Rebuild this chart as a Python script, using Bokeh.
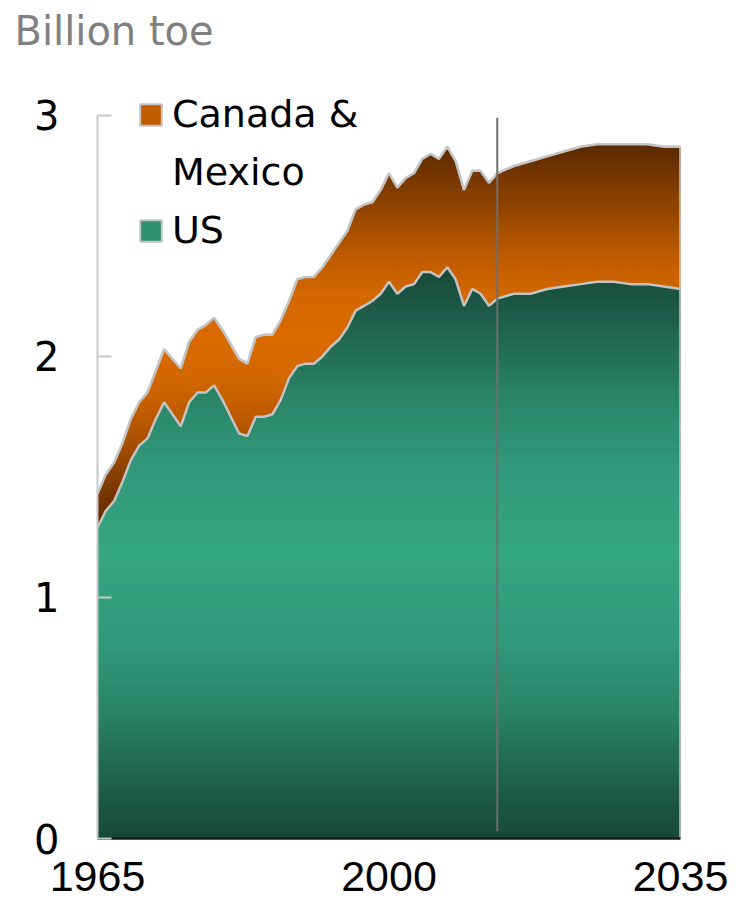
import numpy as np
from bokeh.plotting import figure
from bokeh.models import Range1d, FixedTicker, Legend, LegendItem
from bokeh.embed import file_html
from bokeh.resources import INLINE

# ---------------- data (billion toe) ----------------
hist_years = list(range(1965, 2014))
us_hist = [1.29, 1.36, 1.40, 1.48, 1.57, 1.63, 1.66, 1.74, 1.81, 1.76,
           1.71, 1.81, 1.85, 1.85, 1.88, 1.82, 1.75, 1.68, 1.67, 1.75,
           1.75, 1.76, 1.82, 1.91, 1.96, 1.97, 1.97, 2.00, 2.04, 2.07,
           2.12, 2.19, 2.21, 2.23, 2.26, 2.31, 2.26, 2.29, 2.30, 2.35,
           2.35, 2.33, 2.37, 2.32, 2.21, 2.28, 2.26, 2.21, 2.24]
cm_hist = [0.14, 0.15, 0.16, 0.16, 0.17, 0.18, 0.19, 0.20, 0.22, 0.23,
           0.24, 0.25, 0.26, 0.28, 0.28, 0.29, 0.30, 0.31, 0.30, 0.33,
           0.34, 0.33, 0.33, 0.32, 0.36, 0.36, 0.36, 0.37, 0.38, 0.40,
           0.40, 0.42, 0.42, 0.41, 0.43, 0.45, 0.44, 0.45, 0.46, 0.47,
           0.49, 0.49, 0.50, 0.49, 0.48, 0.49, 0.51, 0.51, 0.52]
proj_years = [2015, 2017, 2019, 2021, 2023, 2025, 2027, 2029, 2031, 2033, 2035]
us_proj = [2.26, 2.26, 2.28, 2.29, 2.30, 2.31, 2.31, 2.30, 2.30, 2.29, 2.28]
cm_proj = [0.53, 0.55, 0.55, 0.56, 0.57, 0.57, 0.57, 0.58, 0.58, 0.58, 0.59]

x_ticks = [1965, 2000, 2035]
y_ticks = [0, 1, 2, 3]
unit_label = "Billion toe"
legend_lines = ["Canada &", "Mexico", "US"]

# ---------------- styles ----------------
US_STOPS = [(0.0, "#174838"), (0.15, "#1d5a46"), (0.45, "#2a8466"),
            (0.7, "#31997a"), (1.0, "#35a780")]
CM_STOPS = [(0.0, "#5a2800"), (0.3, "#8c4200"), (0.6, "#c05c00"),
            (0.8, "#d46800"), (1.0, "#d86a00")]
OUTLINE = "#c4c4c4"


def hex2rgb(h):
    return np.array([int(h[i:i + 2], 16) for i in (1, 3, 5)], float)


def color_at(t, stops):
    t = min(max(t, 0.0), 1.0)
    for (t0, c0), (t1, c1) in zip(stops[:-1], stops[1:]):
        if t <= t1:
            f = 0 if t1 == t0 else (t - t0) / (t1 - t0)
            c = hex2rgb(c0) * (1 - f) + hex2rgb(c1) * f
            return "#%02x%02x%02x" % tuple(int(round(v)) for v in c)
    return stops[-1][1]


years = np.array(hist_years + proj_years, float)
us = np.array(us_hist + us_proj, float)
cm = np.array(cm_hist + cm_proj, float)
total = us + cm
base = np.zeros_like(us)

p = figure(width=730, height=905, x_range=Range1d(1965, 2035),
           y_range=Range1d(0, 3.261), output_backend="svg",
           toolbar_location=None, min_border_left=97, min_border_right=50,
           min_border_top=52, min_border_bottom=67)
p.xgrid.visible = False
p.ygrid.visible = False
p.outline_line_color = None
p.background_fill_color = "white"

# unit label as left-aligned title
p.title.text = unit_label
p.title.align = "left"
p.title.offset = -83
p.title.standoff = -3
p.title.text_font = "DejaVu Sans"
p.title.text_font_size = "40px"
p.title.text_font_style = "normal"
p.title.text_color = "#808080"

# solid base areas (hidden under the gradient bands; also used as legend swatches)
px = np.concatenate([years, years[::-1]])
us_patch = p.patch(px, np.concatenate([us, base[::-1]]), fill_color="#2e9070",
                   line_color=OUTLINE, line_width=2)
cm_patch = p.patch(px, np.concatenate([total, us[::-1]]), fill_color="#c25c00",
                   line_color=OUTLINE, line_width=2)


def gradient_area(lower, upper, stops, n_bands):
    v_lo, v_hi = float(lower.min()), float(upper.max())
    center = (v_lo + v_hi) / 2
    half = (v_hi - v_lo) / 2
    edges = np.linspace(v_lo, v_hi, n_bands + 1)
    step = edges[1] - edges[0]
    ov = 0.6 * step
    levels = np.concatenate([edges, edges + ov])
    xs = set(years.tolist())
    for arr in (lower, upper):
        for i in range(len(years) - 1):
            a, b = arr[i], arr[i + 1]
            if a == b:
                continue
            lo, hi = min(a, b), max(a, b)
            for e in levels:
                if lo < e < hi:
                    xs.add(years[i] + (e - a) / (b - a) * (years[i + 1] - years[i]))
    xs = np.array(sorted(xs))
    lo_i = np.interp(xs, years, lower)
    up_i = np.interp(xs, years, upper)
    for j in range(n_bands):
        e0, e1 = edges[j], edges[j + 1]
        y1 = np.clip(lo_i, e0, e1 + ov)
        y2 = np.clip(up_i, e0, e1 + ov)
        t = 1 - abs((e0 + e1) / 2 - center) / half
        p.varea(x=xs, y1=y1, y2=y2, fill_color=color_at(t, stops))


gradient_area(base, us, US_STOPS, 120)
gradient_area(us, total, CM_STOPS, 80)

# outlines
p.line(years, us, line_color=OUTLINE, line_width=2.5)
p.line(years, total, line_color=OUTLINE, line_width=2.5)
p.segment(x0=[years[-1]], y0=[0], x1=[years[-1]], y1=[total[-1]],
          line_color=OUTLINE, line_width=2.5)

# history / projection divider
p.segment(x0=[hist_years[-1]], y0=[0.03], x1=[hist_years[-1]], y1=[2.99],
          line_color="#6e6e6e", line_width=2)

# invisible renderer for the legend's continuation line
blank = p.line(years, total, line_alpha=0)

# axes
xa = p.xaxis[0]
xa.ticker = FixedTicker(ticks=x_ticks)
xa.axis_line_color = "#1a1a1a"
xa.axis_line_width = 2.5
xa.major_tick_line_color = None
xa.minor_tick_line_color = None
xa.major_label_text_font = "Liberation Sans"
xa.major_label_text_font_size = "43px"
xa.major_label_text_color = "black"
xa.major_label_standoff = 17

ya = p.yaxis[0]
ya.ticker = FixedTicker(ticks=y_ticks)
ya.bounds = (0, 3)
ya.axis_line_color = "#c8c8c8"
ya.axis_line_width = 2
ya.major_tick_in = 14
ya.major_tick_out = 0
ya.major_tick_line_color = "#c8c8c8"
ya.major_tick_line_width = 2
ya.minor_tick_line_color = None
ya.major_label_text_font = "DejaVu Sans"
ya.major_label_text_font_size = "40px"
ya.major_label_text_color = "black"
ya.major_label_standoff = 38

legend = Legend(items=[LegendItem(label=legend_lines[0], renderers=[cm_patch]),
                       LegendItem(label=legend_lines[1], renderers=[blank]),
                       LegendItem(label=legend_lines[2], renderers=[us_patch])],
                location="top_left", glyph_width=27, glyph_height=27,
                label_standoff=8, padding=0, margin=40, spacing=14,
                background_fill_alpha=0, border_line_color=None,
                label_text_font="DejaVu Sans", label_text_font_size="38px",
                label_text_color="black", label_height=22)
p.add_layout(legend)

open("out.html", "w").write(file_html(p, INLINE))
